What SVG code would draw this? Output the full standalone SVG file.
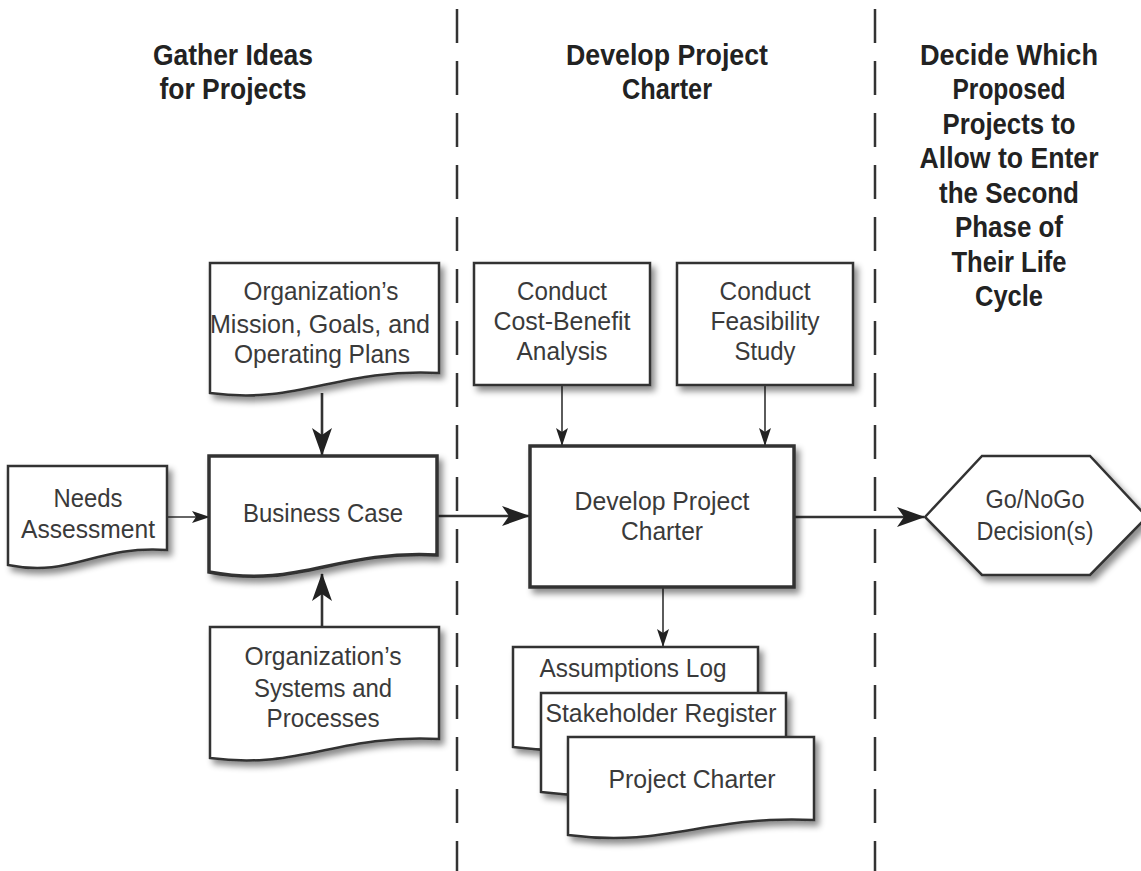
<svg xmlns="http://www.w3.org/2000/svg" width="1141" height="871" viewBox="0 0 1141 871">
<style>
.hdr{font-family:"Liberation Sans",Arial,sans-serif;font-weight:bold;font-size:29px;fill:#222;text-anchor:middle}
.t{font-family:"Liberation Sans",Arial,sans-serif;font-size:25.5px;fill:#3a3a3a;text-anchor:middle}
.shape{fill:#fff;stroke:#333;stroke-width:2.5;stroke-linejoin:miter}
.heavy{stroke-width:3.5}
.lane{stroke:#333;stroke-width:2.5;stroke-dasharray:34 18;fill:none}
.thin{stroke:#333;stroke-width:1.6;fill:none}
.thick{stroke:#333;stroke-width:2.6;fill:none}
</style>
<defs>
<filter id="sh" x="-10%" y="-10%" width="130%" height="140%">
<feDropShadow dx="4" dy="5" stdDeviation="3" flood-color="#000" flood-opacity="0.45"/>
</filter>
<marker id="aBig" viewBox="0 0 28 20" refX="27" refY="10" markerWidth="28" markerHeight="20" markerUnits="userSpaceOnUse" orient="auto">
<path d="M0,0 L28,10 L0,20 L7,10 z" fill="#222"/>
</marker>
<marker id="aSmall" viewBox="0 0 18 12" refX="17" refY="6" markerWidth="18" markerHeight="12" markerUnits="userSpaceOnUse" orient="auto">
<path d="M0,0 L18,6 L0,12 L4,6 z" fill="#222"/>
</marker>
</defs>
<rect width="1141" height="871" fill="#fff"/>

<g id="lanes">
<line class="lane" x1="457" y1="9" x2="457" y2="871"/>
<line class="lane" x1="875" y1="9" x2="875" y2="871"/>
</g>

<g id="headers">
<text class="hdr" x="233" y="65" textLength="160" lengthAdjust="spacingAndGlyphs">Gather Ideas</text>
<text class="hdr" x="233" y="99" textLength="147" lengthAdjust="spacingAndGlyphs">for Projects</text>
<text class="hdr" x="667" y="65" textLength="202" lengthAdjust="spacingAndGlyphs">Develop Project</text>
<text class="hdr" x="667" y="99" textLength="90" lengthAdjust="spacingAndGlyphs">Charter</text>
<text class="hdr" x="1009" y="65" textLength="178" lengthAdjust="spacingAndGlyphs">Decide Which</text>
<text class="hdr" x="1009" y="99" textLength="113" lengthAdjust="spacingAndGlyphs">Proposed</text>
<text class="hdr" x="1009" y="134" textLength="133" lengthAdjust="spacingAndGlyphs">Projects to</text>
<text class="hdr" x="1009" y="168" textLength="179" lengthAdjust="spacingAndGlyphs">Allow to Enter</text>
<text class="hdr" x="1009" y="203" textLength="140" lengthAdjust="spacingAndGlyphs">the Second</text>
<text class="hdr" x="1009" y="237" textLength="108" lengthAdjust="spacingAndGlyphs">Phase of</text>
<text class="hdr" x="1009" y="272" textLength="115" lengthAdjust="spacingAndGlyphs">Their Life</text>
<text class="hdr" x="1009" y="306" textLength="68" lengthAdjust="spacingAndGlyphs">Cycle</text>
</g>

<g id="connectors">
<line class="thin" x1="167" y1="517" x2="209" y2="517" marker-end="url(#aSmall)"/>
<line class="thick" x1="322" y1="393" x2="322" y2="455" marker-end="url(#aBig)"/>
<line class="thick" x1="322" y1="627" x2="322" y2="574" marker-end="url(#aBig)"/>
<line class="thick" x1="437" y1="516" x2="529" y2="516" marker-end="url(#aBig)"/>
<line class="thin" x1="562" y1="385" x2="562" y2="445" marker-end="url(#aSmall)"/>
<line class="thin" x1="765" y1="385" x2="765" y2="445" marker-end="url(#aSmall)"/>
<line class="thick" x1="794" y1="517" x2="924" y2="517" marker-end="url(#aBig)"/>
<line class="thin" x1="663" y1="587" x2="663" y2="646" marker-end="url(#aSmall)"/>
</g>

<g id="needs-assessment">
<path class="shape" filter="url(#sh)" d="M8,466 H167 V550 C95,545 72,578 8,565 Z"/>
<text class="t" x="88" y="507" textLength="69" lengthAdjust="spacingAndGlyphs">Needs</text>
<text class="t" x="88" y="538" textLength="134" lengthAdjust="spacingAndGlyphs">Assessment</text>
</g>

<g id="mission">
<path class="shape" filter="url(#sh)" d="M210,263 H439 V373 C336,368 302,405 210,393 Z"/>
<text class="t" x="321" y="300" textLength="155" lengthAdjust="spacingAndGlyphs">Organization’s</text>
<text class="t" x="320" y="333" textLength="220" lengthAdjust="spacingAndGlyphs">Mission, Goals, and</text>
<text class="t" x="322" y="363" textLength="176" lengthAdjust="spacingAndGlyphs">Operating Plans</text>
</g>

<g id="business-case">
<path class="shape heavy" filter="url(#sh)" d="M209,456 H437 V555 C334,550 300,589 209,572 Z"/>
<text class="t" x="323" y="522" textLength="160" lengthAdjust="spacingAndGlyphs">Business Case</text>
</g>

<g id="systems">
<path class="shape" filter="url(#sh)" d="M210,627 H439 V739 C336,734 302,770 210,758 Z"/>
<text class="t" x="323" y="665" textLength="157" lengthAdjust="spacingAndGlyphs">Organization’s</text>
<text class="t" x="323" y="697" textLength="138" lengthAdjust="spacingAndGlyphs">Systems and</text>
<text class="t" x="323" y="727" textLength="113" lengthAdjust="spacingAndGlyphs">Processes</text>
</g>

<g id="cost-benefit">
<rect class="shape" filter="url(#sh)" x="474" y="263" width="176" height="122"/>
<text class="t" x="562" y="300" textLength="90" lengthAdjust="spacingAndGlyphs">Conduct</text>
<text class="t" x="562" y="330" textLength="137" lengthAdjust="spacingAndGlyphs">Cost-Benefit</text>
<text class="t" x="562" y="360" textLength="91" lengthAdjust="spacingAndGlyphs">Analysis</text>
</g>

<g id="feasibility">
<rect class="shape" filter="url(#sh)" x="677" y="263" width="176" height="122"/>
<text class="t" x="765" y="300" textLength="91" lengthAdjust="spacingAndGlyphs">Conduct</text>
<text class="t" x="765" y="330" textLength="109" lengthAdjust="spacingAndGlyphs">Feasibility</text>
<text class="t" x="765" y="360" textLength="61" lengthAdjust="spacingAndGlyphs">Study</text>
</g>

<g id="develop-charter">
<rect class="shape heavy" filter="url(#sh)" x="530" y="446" width="264" height="141"/>
<text class="t" x="662" y="510" textLength="175" lengthAdjust="spacingAndGlyphs">Develop Project</text>
<text class="t" x="662" y="540" textLength="82" lengthAdjust="spacingAndGlyphs">Charter</text>
</g>

<g id="go-nogo">
<path class="shape" filter="url(#sh)" d="M925,517 L982,456 H1090 L1147,517 L1090,575 H982 Z"/>
<text class="t" x="1035" y="508" textLength="99" lengthAdjust="spacingAndGlyphs">Go/NoGo</text>
<text class="t" x="1035" y="540" textLength="117" lengthAdjust="spacingAndGlyphs">Decision(s)</text>
</g>

<g id="assumptions-log">
<path class="shape" filter="url(#sh)" d="M513,647 H758 V732 C648,727 612,760 513,747 Z"/>
<text class="t" x="633" y="677" textLength="187" lengthAdjust="spacingAndGlyphs">Assumptions Log</text>
</g>

<g id="stakeholder-register">
<path class="shape" filter="url(#sh)" d="M541,693 H786 V777 C676,772 640,805 541,792 Z"/>
<text class="t" x="661" y="722" textLength="231" lengthAdjust="spacingAndGlyphs">Stakeholder Register</text>
</g>

<g id="project-charter">
<path class="shape" filter="url(#sh)" d="M568,737 H814 V820 C704,815 668,848 568,835 Z"/>
<text class="t" x="692" y="788" textLength="167" lengthAdjust="spacingAndGlyphs">Project Charter</text>
</g>
</svg>
